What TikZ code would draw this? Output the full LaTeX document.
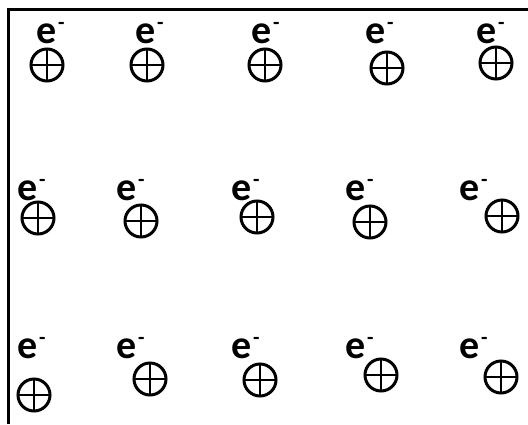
\documentclass[tikz,border=0pt]{standalone}
\usepackage{fontspec}
\setmainfont{Carlito}
\begin{document}
\begin{tikzpicture}[x=1pt,y=-1pt,
  charge/.style={font=\fontsize{40}{44}\selectfont\bfseries, inner sep=0pt, anchor=base},
  proton/.style={circle, draw, line width=3pt, minimum size=32pt, inner sep=0pt,
    path picture={\draw[line width=2.5pt]
      (path picture bounding box.north) -- (path picture bounding box.south)
      (path picture bounding box.west) -- (path picture bounding box.east);}},
  frame/.style={line width=3pt, line join=miter}]
\useasboundingbox (0,0) rectangle (528,424);
% open frame: top and left edges
\draw[frame] (528,9) -- (8,9) -- (8,424);
\newcommand{\elec}{e\rlap{\kern1pt\raisebox{14pt}{\fontsize{21}{21}\selectfont -}}}
% row 1
\node[charge] (e11) at (47,43) {\elec};
\node[charge] (e12) at (146,43) {\elec};
\node[charge] (e13) at (262,43) {\elec};
\node[charge] (e14) at (376,43) {\elec};
\node[charge] (e15) at (487,43) {\elec};
\node[proton] (p11) at (47,65) {};
\node[proton] (p12) at (147,65) {};
\node[proton] (p13) at (265,65) {};
\node[proton] (p14) at (387,68) {};
\node[proton] (p15) at (496,63) {};
% row 2
\node[charge] (e21) at (28,200) {\elec};
\node[charge] (e22) at (127,200) {\elec};
\node[charge] (e23) at (242,200) {\elec};
\node[charge] (e24) at (356,200) {\elec};
\node[charge] (e25) at (470,200) {\elec};
\node[proton] (p21) at (38,218) {};
\node[proton] (p22) at (141,221) {};
\node[proton] (p23) at (257,217) {};
\node[proton] (p24) at (370,222) {};
\node[proton] (p25) at (502,216) {};
% row 3
\node[charge] (e31) at (28,358) {\elec};
\node[charge] (e32) at (127,358) {\elec};
\node[charge] (e33) at (242,358) {\elec};
\node[charge] (e34) at (356,358) {\elec};
\node[charge] (e35) at (470,358) {\elec};
\node[proton] (p31) at (34,395) {};
\node[proton] (p32) at (150,379) {};
\node[proton] (p33) at (260,380) {};
\node[proton] (p34) at (381,375) {};
\node[proton] (p35) at (501,377) {};
\end{tikzpicture}
\end{document}
